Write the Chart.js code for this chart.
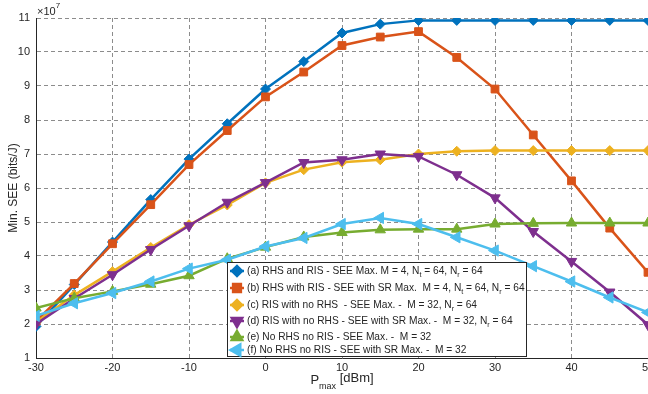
<!DOCTYPE html>
<html>
<head>
<meta charset="utf-8">
<script src="https://cdn.jsdelivr.net/npm/chart.js@4.4.1/dist/chart.umd.min.js"></script>
<style>
html, body { margin: 0; padding: 0; background: #fff; overflow: hidden; }
</style>
</head>
<body>
<canvas id="grafico" width="648" height="394"></canvas>
<script>
// P_max em dBm
const potencias = [-30, -25, -20, -15, -10, -5, 0, 5, 10, 15, 20, 25, 30, 35, 40, 45, 50];

// Min. SEE (x 1e7 bits/J)
const see_a = [1.93, 3.16, 4.41, 5.66, 6.85, 7.89, 8.91, 9.72, 10.56, 10.82, 10.93, 10.93, 10.93, 10.93, 10.93, 10.93, 10.93];
const see_b = [2.08, 3.19, 4.36, 5.51, 6.69, 7.69, 8.68, 9.41, 10.19, 10.44, 10.60, 9.84, 8.91, 7.56, 6.21, 4.82, 3.52];
const see_c = [2.05, 2.85, 3.54, 4.25, 4.92, 5.50, 6.15, 6.54, 6.76, 6.83, 7.00, 7.08, 7.10, 7.10, 7.10, 7.10, 7.10];
const see_d = [2.00, 2.75, 3.45, 4.19, 4.89, 5.58, 6.16, 6.75, 6.83, 7.00, 6.93, 6.39, 5.71, 4.72, 3.84, 2.94, 1.98];
const see_e = [2.47, 2.76, 2.96, 3.17, 3.42, 3.92, 4.26, 4.56, 4.69, 4.77, 4.79, 4.79, 4.94, 4.96, 4.97, 4.97, 4.97];
const see_f = [2.24, 2.61, 2.91, 3.25, 3.63, 3.89, 4.28, 4.53, 4.94, 5.12, 4.94, 4.55, 4.16, 3.70, 3.25, 2.78, 2.34];

const ticks_x = [-30, -20, -10, 0, 10, 20, 30, 40, 50];
const ticks_y = [1, 2, 3, 4, 5, 6, 7, 8, 9, 10, 11];

// texto da legenda: pedacos alternando normal / subscrito
const legendas = [
    ['(a) RHS and RIS - SEE Max. M = 4, N', 't', ' = 64, N', 'r', ' = 64'],
    ['(b) RHS with RIS - SEE with SR Max.  M = 4, N', 't', ' = 64, N', 'r', ' = 64'],
    ['(c) RIS with no RHS  - SEE Max. -  M = 32, N', 'r', ' = 64'],
    ['(d) RIS with no RHS - SEE with SR Max. -  M = 32, N', 'r', ' = 64'],
    ['(e) No RHS no RIS - SEE Max. -  M = 32'],
    ['(f) No RHS no RIS - SEE with SR Max. -  M = 32']
];

const series = [see_a, see_b, see_c, see_d, see_e, see_f];
const cores = ['#0072BD', '#D95319', '#EDB120', '#7E2F8E', '#77AC30', '#4DBEEE'];
const marcadores = ['rectRot', 'rect', 'rectRot', 'triangle', 'triangle', 'triangle'];
const rotacoes = [0, 0, 0, 180, 0, 270];
const raios = [5, 5.5, 5, 6, 6, 6.5];

const FONTE = '"Liberation Sans", Arial, Helvetica, sans-serif';
const COR_TEXTO = '#262626';

function texto_sub(ctx, x, y, partes, tam) {
    for (let i = 0; i < partes.length; i++) {
        const sub = i % 2 === 1;
        ctx.font = (sub ? tam - 3 : tam) + 'px ' + FONTE;
        ctx.fillText(partes[i], x, sub ? y + 4 : y);
        x += ctx.measureText(partes[i]).width;
    }
    return x;
}

const extras = {
    id: 'extras',
    afterDraw(chart) {
        const ctx = chart.ctx;
        const area = chart.chartArea;
        ctx.save();
        ctx.fillStyle = COR_TEXTO;
        ctx.textBaseline = 'middle';

        // multiplicador do eixo y
        ctx.font = '11px ' + FONTE;
        ctx.textAlign = 'left';
        ctx.fillText('\u00d710', area.left + 1, 12);
        const w = ctx.measureText('\u00d710').width;
        ctx.font = '8px ' + FONTE;
        ctx.fillText('7', area.left + 1 + w, 6);

        // titulo do eixo x com subscrito
        ctx.font = '13px ' + FONTE;
        const wp = ctx.measureText('P').width;
        ctx.font = '9px ' + FONTE;
        const wm = ctx.measureText('max').width;
        ctx.font = '13px ' + FONTE;
        const wd = ctx.measureText(' [dBm]').width;
        let x0 = (area.left + area.right) / 2 - (wp + wm + wd) / 2;
        ctx.fillText('P', x0, 380);
        ctx.font = '9px ' + FONTE;
        ctx.fillText('max', x0 + wp, 387);
        ctx.font = '13px ' + FONTE;
        ctx.fillText(' [dBm]', x0 + wp + wm, 378);

        // legenda
        const bx = 227, by = 262, bw = 299, bh = 94;
        ctx.fillStyle = '#fff';
        ctx.fillRect(bx, by, bw, bh);
        ctx.strokeStyle = '#262626';
        ctx.lineWidth = 1;
        ctx.strokeRect(bx + 0.5, by + 0.5, bw, bh);
        const linhas_y = [271, 288, 305, 321, 337, 350];
        for (let i = 0; i < legendas.length; i++) {
            const y = linhas_y[i];
            ctx.strokeStyle = cores[i];
            ctx.lineWidth = 2.5;
            ctx.beginPath();
            ctx.moveTo(230, y);
            ctx.lineTo(244, y);
            ctx.stroke();
            ctx.fillStyle = cores[i];
            Chart.helpers.drawPoint(ctx, {
                pointStyle: marcadores[i], radius: raios[i], rotation: rotacoes[i], borderWidth: 1
            }, 237, y);
            ctx.fillStyle = COR_TEXTO;
            texto_sub(ctx, 247, y, legendas[i], 10.2);
        }
        ctx.restore();
    }
};

const ctx = document.getElementById('grafico').getContext('2d');
const grafico = new Chart(ctx, {
    type: 'line',
    data: {
        labels: potencias,
        datasets: series.map(function(s, i) {
            return {
                data: s,
                borderColor: cores[i],
                backgroundColor: cores[i],
                borderWidth: 2.5,
                pointStyle: marcadores[i],
                pointRotation: rotacoes[i],
                pointRadius: raios[i],
                pointBorderWidth: 1,
                pointBackgroundColor: cores[i],
                pointBorderColor: cores[i],
                fill: false,
                tension: 0,
                order: 6 - i
            };
        })
    },
    options: {
        responsive: false,
        animation: false,
        devicePixelRatio: 1,
        layout: { autoPadding: false, padding: { top: 18, right: 0, left: 0, bottom: 0 } },
        plugins: {
            legend: { display: false },
            tooltip: { enabled: false }
        },
        scales: {
            x: {
                type: 'linear',
                min: -30,
                max: 50,
                afterBuildTicks: function(s) { s.ticks = ticks_x.map(function(v) { return { value: v }; }); },
                afterFit: function(s) { s.height = 36; s.paddingLeft = 0; s.paddingRight = 0; },
                ticks: { color: COR_TEXTO, font: { size: 11, family: FONTE }, padding: 3, maxRotation: 0 },
                grid: { color: '#8c8c8c', lineWidth: 1, drawTicks: false },
                border: { display: true, color: '#262626', width: 1, dash: [4, 3] }
            },
            y: {
                min: 1,
                max: 11,
                afterBuildTicks: function(s) { s.ticks = ticks_y.map(function(v) { return { value: v }; }); },
                afterFit: function(s) { s.width = 36; s.paddingTop = 0; s.paddingBottom = 0; },
                ticks: { color: COR_TEXTO, font: { size: 11, family: FONTE }, padding: 6 },
                grid: { color: '#8c8c8c', lineWidth: 1, drawTicks: false },
                border: { display: true, color: '#262626', width: 1, dash: [4, 3] },
                title: {
                    display: true,
                    text: 'Min. SEE (bits/J)',
                    color: COR_TEXTO,
                    font: { size: 12, family: FONTE },
                    padding: { top: 6, bottom: 0 }
                }
            }
        }
    },
    plugins: [extras]
});
</script>
</body>
</html>
